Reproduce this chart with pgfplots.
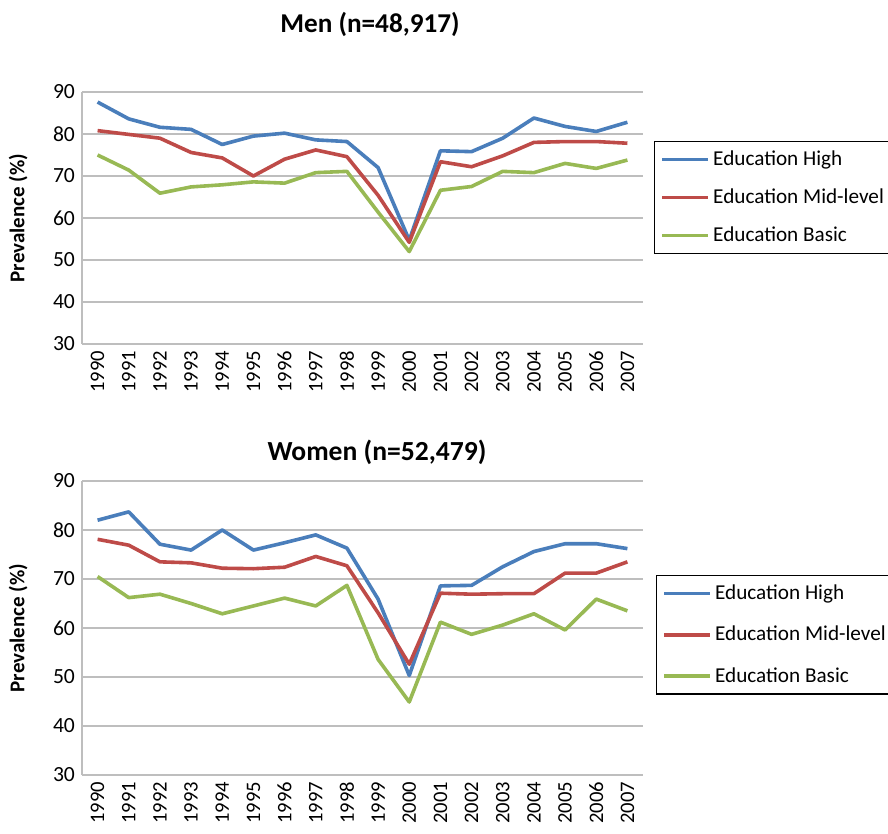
\documentclass[border=0pt]{standalone}
\usepackage{pgfplots}
\pgfplotsset{compat=1.18}
\usepackage{pgfplotstable}
\usepackage{fontspec}
\setmainfont{Carlito}
\definecolor{cblue}{RGB}{74,126,187}
\definecolor{cred}{RGB}{190,75,72}
\definecolor{cgreen}{RGB}{152,185,84}
\definecolor{cgrid}{RGB}{190,190,190}

\pgfplotstableread{
x  high mid  basic
0  87.6 80.8 75.0
1  83.6 79.9 71.4
2  81.6 79.0 65.9
3  81.1 75.6 67.4
4  77.5 74.3 67.9
5  79.5 70.0 68.6
6  80.2 74.0 68.3
7  78.6 76.2 70.8
8  78.2 74.6 71.1
9  72.0 65.4 61.4
10 54.7 54.2 52.0
11 76.0 73.4 66.6
12 75.8 72.2 67.5
13 79.0 74.8 71.1
14 83.8 78.0 70.8
15 81.8 78.2 73.0
16 80.6 78.2 71.8
17 82.8 77.8 73.8
}\men

\pgfplotstableread{
x  high mid  basic
0  82.0 78.1 70.5
1  83.7 76.9 66.2
2  77.1 73.5 66.9
3  75.9 73.3 65.0
4  80.0 72.2 62.9
5  75.9 72.1 64.5
6  77.4 72.4 66.1
7  79.0 74.6 64.5
8  76.3 72.7 68.7
9  65.9 63.1 53.6
10 50.3 52.6 44.9
11 68.6 67.1 61.2
12 68.7 66.9 58.7
13 72.5 67.0 60.6
14 75.6 67.0 62.9
15 77.2 71.2 59.6
16 77.2 71.2 65.9
17 76.2 73.5 63.5
}\women

\pgfplotsset{
  myaxis/.style={
    scale only axis,
    width=280.5pt,
    xmin=-0.5, xmax=17.5,
    ymin=30, ymax=90,
    ytick={30,40,...,90},
    xtick={0,...,17},
    xticklabels={1990,1991,1992,1993,1994,1995,1996,1997,1998,1999,2000,2001,2002,2003,2004,2005,2006,2007},
    xticklabel style={rotate=90, anchor=east, font=\fontsize{10.3}{12}\selectfont},
    yticklabel style={font=\fontsize{10.8}{12}\selectfont},
    /pgf/number format/assume math mode=true,
    major tick length=0pt,
    axis lines*=left,
    axis line style={draw=cgrid, line width=0.8pt},
    ymajorgrids,
    grid style={draw=cgrid, line width=0.8pt},
    ylabel={\bfseries Prevalence (\%)},
    ylabel style={font=\fontsize{10.5}{12}\selectfont, anchor=center, at={(axis description cs:-0.114,0.5)}},
    every axis plot/.append style={line width=1.8pt, line join=round},
    legend cell align=left,
    legend image code/.code={\draw[#1] (0pt,0pt) -- (23pt,0pt);},
    legend style={draw=black, line width=0.6pt, font=\fontsize{10.6}{12}\selectfont,
      anchor=north west, row sep=7.2pt, inner sep=3pt,
      nodes={inner sep=1.5pt}},
  }
}

\begin{document}
\begin{tikzpicture}
\useasboundingbox (0,0) rectangle (444pt,417pt);

\begin{axis}[myaxis, height=126pt, at={(41pt,245pt)}, anchor=south west,
  legend style={at={(1.0196,0.806)}}]
\addplot[cblue] table[x=x,y=high] {\men};
\addlegendentry{Education High}
\addplot[cred] table[x=x,y=mid] {\men};
\addlegendentry{Education Mid-level}
\addplot[cgreen] table[x=x,y=basic] {\men};
\addlegendentry{Education Basic}
\end{axis}

\begin{axis}[myaxis, height=147pt, at={(41pt,29.5pt)}, anchor=south west,
  legend style={at={(1.023,0.68)}, row sep=8.8pt}]
\addplot[cblue] table[x=x,y=high] {\women};
\addlegendentry{Education High}
\addplot[cred] table[x=x,y=mid] {\women};
\addlegendentry{Education Mid-level}
\addplot[cgreen] table[x=x,y=basic] {\women};
\addlegendentry{Education Basic}
\end{axis}

\node[font=\bfseries\fontsize{13.6}{15}\selectfont] at (185pt,405pt) {Men (n=48,917)};
\node[font=\bfseries\fontsize{13.8}{15}\selectfont] at (188.5pt,191pt) {Women (n=52,479)};
\end{tikzpicture}
\end{document}
